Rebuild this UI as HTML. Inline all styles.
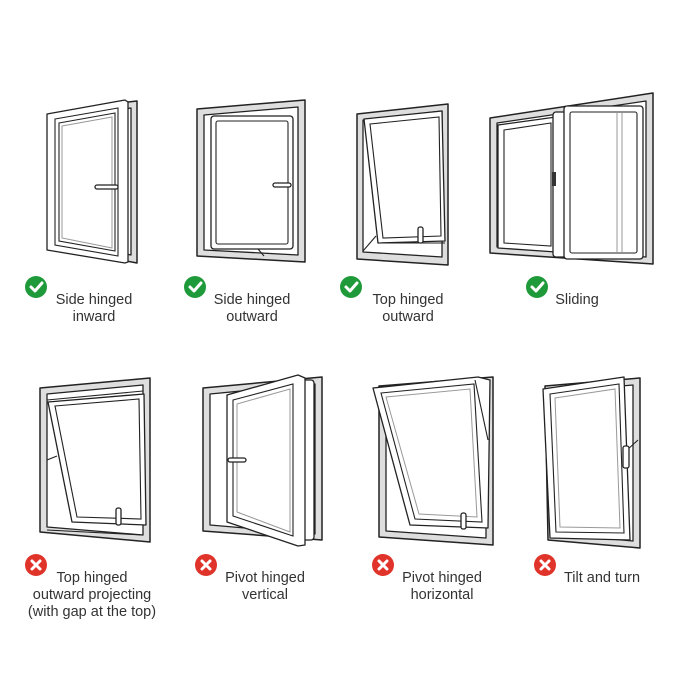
<!DOCTYPE html>
<html><head><meta charset="utf-8"><style>
body{margin:0;background:#fff;width:700px;height:700px;overflow:hidden}
svg{display:block}
text{font-family:"Liberation Sans",sans-serif;font-size:14.5px;fill:#333;text-anchor:middle}
.f{fill:#dedede;stroke:#222;stroke-width:1.5;stroke-linejoin:round}
.w{fill:#fff;stroke:#222;stroke-width:1.3;stroke-linejoin:round}
.g{fill:none;stroke:#999;stroke-width:1}
.l{fill:none;stroke:#222;stroke-width:1.1}
</style></head><body>
<svg width="700" height="700" viewBox="0 0 700 700">
<!-- 1 Side hinged inward -->
<polygon class="f" points="110,104 137,101 137,263 110,258"/>
<polygon class="w" points="116,110 131,108 131,255 116,252"/>
<polygon class="w" points="47,114 125,100 128,102 128,262 125,263 47,250"/>
<polygon class="l" points="55,119 118,108 118,256 55,245"/>
<polygon class="l" points="59,123 115,113 115,251 59,241"/>
<polygon class="g" points="62,126 112,117 112,248 62,238"/>
<rect class="w" x="95" y="185" width="23" height="4" rx="2"/>
<!-- 2 Side hinged outward -->
<polygon class="f" points="197,109 305,100 305,262 197,256"/>
<polygon class="w" points="204,115 298,107 298,255 204,250"/>
<rect class="w" x="211" y="116" width="82" height="133" rx="3"/>
<rect class="l" x="216" y="121" width="72" height="123" rx="2"/>
<line class="l" x1="258" y1="249" x2="264" y2="256"/>
<rect class="w" x="273" y="183" width="18" height="4" rx="2"/>
<!-- 3 Top hinged outward -->
<polygon class="f" points="357,114 448,104 448,265 357,259"/>
<polygon class="w" points="363,120 442,111 442,257 363,252"/>
<line class="l" x1="363" y1="251" x2="376" y2="236"/>
<polygon class="w" points="364,119 442,111 445,241 378,243"/>
<polygon class="l" points="370,124 439,117 441,236 383,238"/>
<line class="l" x1="378" y1="243" x2="445" y2="243"/>
<rect class="w" x="418" y="227" width="5" height="16" rx="2"/>
<!-- 4 Sliding -->
<polygon class="f" points="490,118 653,93 653,264 490,253"/>
<polygon class="w" points="497,123 646,101 646,257 497,247"/>
<polygon class="w" points="498,125 556,117 556,252 498,248"/>
<polygon class="l" points="504,130 551,123 551,246 504,243"/>
<rect class="w" x="553" y="112" width="13" height="145" rx="3"/>
<rect class="w" x="564" y="106" width="79" height="153" rx="3"/>
<rect class="l" x="570" y="112" width="67" height="141" rx="2"/>
<line class="g" x1="617" y1="113" x2="617" y2="252"/>
<line class="g" x1="622" y1="113" x2="622" y2="252"/>
<rect x="552" y="172" width="4" height="14" fill="#333"/>
<!-- 5 Top hinged outward projecting -->
<polygon class="f" points="40,388 150,378 150,542 40,532"/>
<polygon class="w" points="47,394 143,385 143,535 47,527"/>
<line class="l" x1="47" y1="400" x2="143" y2="391"/>
<line class="l" x1="47" y1="460" x2="57" y2="456"/>
<polygon class="w" points="48,402 144,394 146,525 72,522"/>
<polygon class="l" points="55,406 139,399 141,519 77,517"/>
<line class="l" x1="47" y1="530" x2="143" y2="535"/>
<rect class="w" x="116" y="508" width="5" height="17" rx="2"/>
<!-- 6 Pivot hinged vertical -->
<polygon class="f" points="203,388 322,377 322,540 203,531"/>
<polygon class="w" points="210,394 315,384 315,534 210,525"/>
<rect class="w" x="300" y="380" width="14" height="160" rx="3"/>
<polygon class="w" points="227,395 298,375 305,378 305,545 298,546 227,522"/>
<polygon class="l" points="233,400 293,384 293,536 233,516"/>
<polygon class="g" points="237,404 290,389 290,532 237,512"/>
<rect class="w" x="228" y="458" width="18" height="4" rx="2"/>
<!-- 7 Pivot hinged horizontal -->
<polygon class="f" points="379,386 493,377 493,545 379,537"/>
<polygon class="w" points="386,392 486,384 486,538 386,531"/>
<polygon class="w" points="373,388 478,377 490,380 488,528 410,525"/>
<polygon class="l" points="381,393 474,384 482,522 415,519"/>
<polygon class="g" points="386,397 470,389 477,517 419,514"/>
<line class="l" x1="475" y1="380" x2="488" y2="440"/>
<rect class="w" x="461" y="513" width="5" height="16" rx="2"/>
<!-- 8 Tilt and turn -->
<polygon class="f" points="545,386 640,378 640,548 548,540"/>
<polygon class="w" points="552,392 633,385 633,541 554,534"/>
<polygon class="w" points="543,389 624,377 630,540 550,538"/>
<polygon class="l" points="550,394 619,384 624,533 556,532"/>
<polygon class="g" points="555,398 615,389 620,528 560,527"/>
<line class="l" x1="627" y1="450" x2="638" y2="440"/>
<rect class="w" x="623" y="446" width="6" height="22" rx="2"/>
<!-- icons -->
<g fill="#1f9a3a">
<circle cx="36" cy="287" r="11"/><circle cx="195" cy="287" r="11"/><circle cx="351" cy="287" r="11"/><circle cx="537" cy="287" r="11"/></g>
<g fill="none" stroke="#fff" stroke-width="3" stroke-linecap="round" stroke-linejoin="round">
<polyline points="31,287 35,291 42,283"/><polyline points="190,287 194,291 201,283"/><polyline points="346,287 350,291 357,283"/><polyline points="532,287 536,291 543,283"/></g>
<g fill="#e0332a">
<circle cx="36" cy="565" r="11"/><circle cx="206" cy="565" r="11"/><circle cx="383" cy="565" r="11"/><circle cx="545" cy="565" r="11"/></g>
<g stroke="#fff" stroke-width="3" stroke-linecap="round">
<path d="M32,561l8,8M40,561l-8,8"/><path d="M202,561l8,8M210,561l-8,8"/><path d="M379,561l8,8M387,561l-8,8"/><path d="M541,561l8,8M549,561l-8,8"/></g>
<!-- labels -->
<text x="94" y="304">Side hinged</text><text x="94" y="321">inward</text>
<text x="252" y="304">Side hinged</text><text x="252" y="321">outward</text>
<text x="408" y="304">Top hinged</text><text x="408" y="321">outward</text>
<text x="577" y="304">Sliding</text>
<text x="92" y="582">Top hinged</text><text x="92" y="599">outward projecting</text><text x="92" y="616">(with gap at the top)</text>
<text x="265" y="582">Pivot hinged</text><text x="265" y="599">vertical</text>
<text x="442" y="582">Pivot hinged</text><text x="442" y="599">horizontal</text>
<text x="602" y="582">Tilt and turn</text>
</svg>
</body></html>
